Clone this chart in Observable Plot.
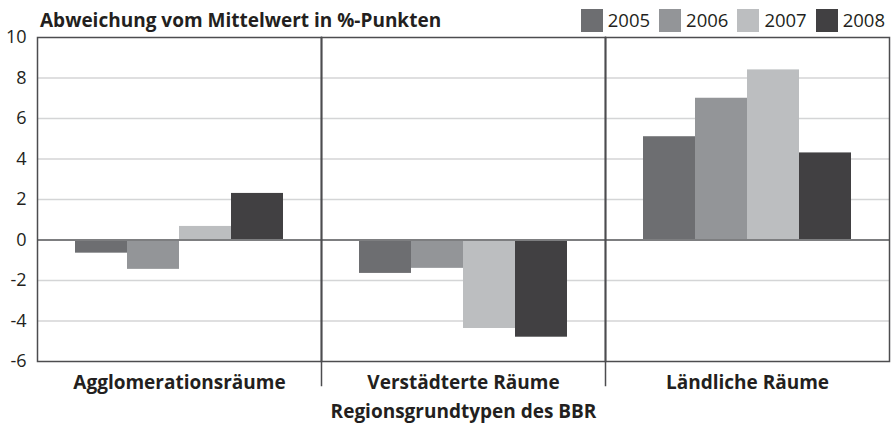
<!DOCTYPE html>
<html><head><meta charset="utf-8">
<script src="https://cdn.jsdelivr.net/npm/d3@7"></script>
<script src="https://cdn.jsdelivr.net/npm/@observablehq/plot@0.6"></script>
<style>
body{margin:0;background:#fff;font-family:"Open Sans",sans-serif;color:#231f20;}
#wrap{width:892px;height:424px;position:relative;overflow:hidden;}
#head{height:30px;position:relative;}
#title{position:absolute;left:40px;top:7px;font-weight:700;font-size:19px;line-height:normal;white-space:nowrap;}
#legend{position:absolute;right:7px;top:8px;display:flex;align-items:center;}
.sw{display:flex;align-items:center;margin-left:9px;font-size:18.5px;line-height:24px;}
.sw .box{width:22px;height:23px;margin-right:5px;display:inline-block;}
svg [aria-label^="fx-axis"]{font-weight:700;font-size:19px;}
</style></head>
<body>
<div id="wrap">
  <div id="head"><div id="title"></div><div id="legend"></div></div>
  <div id="chart"></div>
</div>
<script>
const regions = ["Agglomerationsräume", "Verstädterte Räume", "Ländliche Räume"];
const years = ["2005", "2006", "2007", "2008"];
const colors = ["#6d6e71", "#939598", "#bcbec0", "#414042"];
const v2005 = [-0.65, -1.65, 5.1];
const v2006 = [-1.45, -1.4, 7.0];
const v2007 = [0.67, -4.37, 8.4];
const v2008 = [2.3, -4.8, 4.3];
const yTicks = [-6, -4, -2, 0, 2, 4, 6, 8, 10];
const titleText = "Abweichung vom Mittelwert in %-Punkten";
const xTitle = "Regionsgrundtypen des BBR";

const series = [v2005, v2006, v2007, v2008];
const data = [];
regions.forEach((r, i) => years.forEach((y, j) => data.push({region: r, year: y, value: series[j][i]})));

document.getElementById("title").textContent = titleText;
const leg = document.getElementById("legend");
years.forEach((y, j) => {
  const d = document.createElement("div");
  d.className = "sw";
  const b = document.createElement("span");
  b.className = "box";
  b.style.background = colors[j];
  d.appendChild(b);
  d.appendChild(document.createTextNode(y));
  leg.appendChild(d);
});

const chart = Plot.plot({
  width: 892,
  height: 394,
  marginTop: 7,
  marginLeft: 37,
  marginRight: 3,
  marginBottom: 63,
  style: {fontFamily: "Open Sans", fontSize: "18px", color: "#231f20", background: "white", overflow: "visible"},
  fx: {domain: regions, padding: 0, axis: "bottom", label: xTitle, labelAnchor: "center", tickSize: 0, tickPadding: 14, labelOffset: 56},
  x: {domain: years, paddingInner: 0, paddingOuter: 0.73, axis: null},
  y: {domain: [-6, 10], ticks: yTicks, tickSize: 0, tickPadding: 11, label: null, tickFormat: d => String(d)},
  color: {domain: years, range: colors},
  marks: [
    Plot.ruleY(yTicks.filter(t => t !== 0 && t !== -6 && t !== 10), {stroke: "#d4d5d6", strokeWidth: 1.5}),
    Plot.barY(data, {fx: "region", x: "year", y: "value", fill: "year"}),
    Plot.ruleY([0], {stroke: "#7d7e80", strokeWidth: 1.8}),
    Plot.frame({stroke: "#4d4d4f", strokeWidth: 1.5}),
    ...regions.slice(1).map(r => Plot.frame({anchor: "left", fx: r, stroke: "#4d4d4f", strokeWidth: 1.5, insetBottom: -24}))
  ]
});
document.getElementById("chart").appendChild(chart);
</script>
</body></html>
